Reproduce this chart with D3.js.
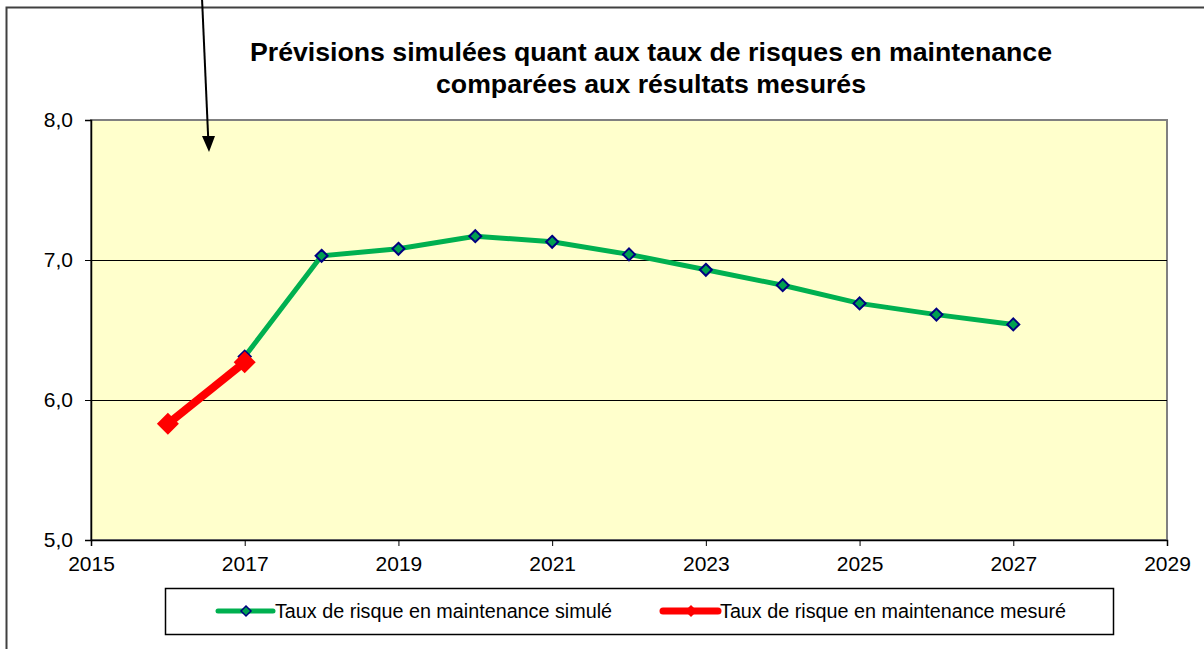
<!DOCTYPE html>
<html>
<head>
<meta charset="utf-8">
<script src="https://cdnjs.cloudflare.com/ajax/libs/d3/7.8.5/d3.min.js"></script>
<style>
  body { margin: 0; background: #fff; }
  svg { display: block; font-family: "Liberation Sans", Arial, sans-serif; }
</style>
</head>
<body>
<div id="chart"></div>
<script>
// data
const simYears = [2017, 2018, 2019, 2020, 2021, 2022, 2023, 2024, 2025, 2026, 2027];
const simValues = [6.31, 7.03, 7.08, 7.17, 7.13, 7.04, 6.93, 6.82, 6.69, 6.61, 6.54];
const mesYears = [2016, 2017];
const mesValues = [5.83, 6.27];
const xTicks = [2015, 2017, 2019, 2021, 2023, 2025, 2027, 2029];
const yTicks = [5, 6, 7, 8];
const titleLines = ["Prévisions simulées quant aux taux de risques en maintenance", "comparées aux résultats mesurés"];
const legendLabels = ["Taux de risque en maintenance simulé", "Taux de risque en maintenance mesuré"];

const width = 1204, height = 649;
const margin = { top: 120, right: 1204 - 1167, bottom: 649 - 540, left: 91 };

const svg = d3.select('#chart').append('svg')
  .attr('width', width)
  .attr('height', height);

// outer chart frame (runs off the right and bottom)
svg.append('rect')
  .attr('x', 6.5).attr('y', 7.5)
  .attr('width', 1220).attr('height', 700)
  .attr('fill', '#fff')
  .attr('stroke', '#404040')
  .attr('stroke-width', 2);

const x = d3.scaleLinear().domain([2015, 2029]).range([margin.left, width - margin.right]);
const y = d3.scaleLinear().domain([5, 8]).range([height - margin.bottom, margin.top]);

// plot area
svg.append('rect')
  .attr('x', x(2015)).attr('y', y(8))
  .attr('width', x(2029) - x(2015)).attr('height', y(5) - y(8))
  .attr('fill', '#FFFFCC')
  .attr('stroke', '#808080')
  .attr('stroke-width', 2);

// grid lines
svg.append('g')
  .selectAll('line')
  .data(yTicks.filter(d => d > 5 && d < 8))
  .join('line')
  .attr('x1', x(2015)).attr('x2', x(2029))
  .attr('y1', d => Math.round(y(d)) + 0.5).attr('y2', d => Math.round(y(d)) + 0.5)
  .attr('stroke', '#000')
  .attr('stroke-width', 1);

const fmt = d => d3.format('.1f')(d).replace('.', ',');

// y axis
const yAxis = svg.append('g')
  .attr('transform', `translate(${x(2015)},0)`)
  .call(d3.axisLeft(y).tickValues(yTicks).tickFormat(fmt).tickSize(6).tickPadding(12));
yAxis.attr('font-size', 21).attr('font-family', '"Liberation Sans", Arial, sans-serif');
yAxis.select('.domain').attr('stroke', '#000').attr('stroke-width', 1.5);
yAxis.selectAll('.tick line').attr('stroke', '#000');
yAxis.selectAll('text').attr('fill', '#000');

// x axis
const xAxis = svg.append('g')
  .attr('transform', `translate(0,${y(5)})`)
  .call(d3.axisBottom(x).tickValues(xTicks).tickFormat(d3.format('d')).tickSize(6).tickPadding(10));
xAxis.attr('font-size', 21).attr('font-family', '"Liberation Sans", Arial, sans-serif');
xAxis.select('.domain').attr('stroke', '#000').attr('stroke-width', 1.5);
xAxis.selectAll('.tick line').attr('stroke', '#000');
xAxis.selectAll('text').attr('fill', '#000');

// title
svg.append('g')
  .selectAll('text')
  .data(titleLines)
  .join('text')
  .attr('x', 651)
  .attr('y', (d, i) => 61 + i * 32)
  .attr('text-anchor', 'middle')
  .attr('font-size', 25)
  .attr('font-weight', 'bold')
  .attr('textLength', (d, i) => i === 0 ? 802 : 430)
  .attr('lengthAdjust', 'spacingAndGlyphs')
  .text(d => d);

const line = d3.line().x(d => x(d[0])).y(d => y(d[1]));
const simData = simYears.map((yr, i) => [yr, simValues[i]]);
const mesData = mesYears.map((yr, i) => [yr, mesValues[i]]);

// simulated series
svg.append('path')
  .datum(simData)
  .attr('d', line)
  .attr('fill', 'none')
  .attr('stroke', '#00B050')
  .attr('stroke-width', 5);

const diamond = s => `M0,${-s}L${s},0L0,${s}L${-s},0Z`;

svg.append('g')
  .selectAll('path')
  .data(simData)
  .join('path')
  .attr('transform', d => `translate(${x(d[0])},${y(d[1])})`)
  .attr('d', diamond(6))
  .attr('fill', '#00A050')
  .attr('stroke', '#000080')
  .attr('stroke-width', 2);

// measured series
svg.append('path')
  .datum(mesData)
  .attr('d', line)
  .attr('fill', 'none')
  .attr('stroke', '#FF0000')
  .attr('stroke-width', 8);

svg.append('g')
  .selectAll('path')
  .data(mesData)
  .join('path')
  .attr('transform', d => `translate(${x(d[0])},${y(d[1])})`)
  .attr('d', diamond(11))
  .attr('fill', '#FF0000');

// arrow annotation
svg.append('line')
  .attr('x1', 202).attr('y1', -2)
  .attr('x2', 208.2).attr('y2', 138)
  .attr('stroke', '#000')
  .attr('stroke-width', 2);
svg.append('path')
  .attr('d', 'M202,136 L215,136 L209,152 Z')
  .attr('fill', '#000');

// legend
const legend = svg.append('g');
legend.append('rect')
  .attr('x', 165.5).attr('y', 588.5)
  .attr('width', 948).attr('height', 46)
  .attr('fill', '#fff')
  .attr('stroke', '#000')
  .attr('stroke-width', 1.5);

const legendItems = [
  { x0: 218, label: legendLabels[0], len: 337, color: '#00B050', w: 5, marker: diamond(5), mFill: '#00A050', mStroke: '#000080' },
  { x0: 663, label: legendLabels[1], len: 346, color: '#FF0000', w: 7, marker: diamond(6), mFill: '#FF0000', mStroke: 'none' }
];
const li = legend.selectAll('g.item')
  .data(legendItems)
  .join('g')
  .attr('class', 'item')
  .attr('transform', d => `translate(${d.x0},611)`);
li.append('line')
  .attr('x1', 0).attr('x2', 55)
  .attr('stroke', d => d.color)
  .attr('stroke-width', d => d.w)
  .attr('stroke-linecap', 'round');
li.append('path')
  .attr('transform', 'translate(28,0)')
  .attr('d', d => d.marker)
  .attr('fill', d => d.mFill)
  .attr('stroke', d => d.mStroke)
  .attr('stroke-width', 1.5);
li.append('text')
  .attr('x', 57)
  .attr('y', 7)
  .attr('font-size', 20)
  .attr('textLength', d => d.len)
  .attr('lengthAdjust', 'spacingAndGlyphs')
  .text(d => d.label);
</script>
</body>
</html>
